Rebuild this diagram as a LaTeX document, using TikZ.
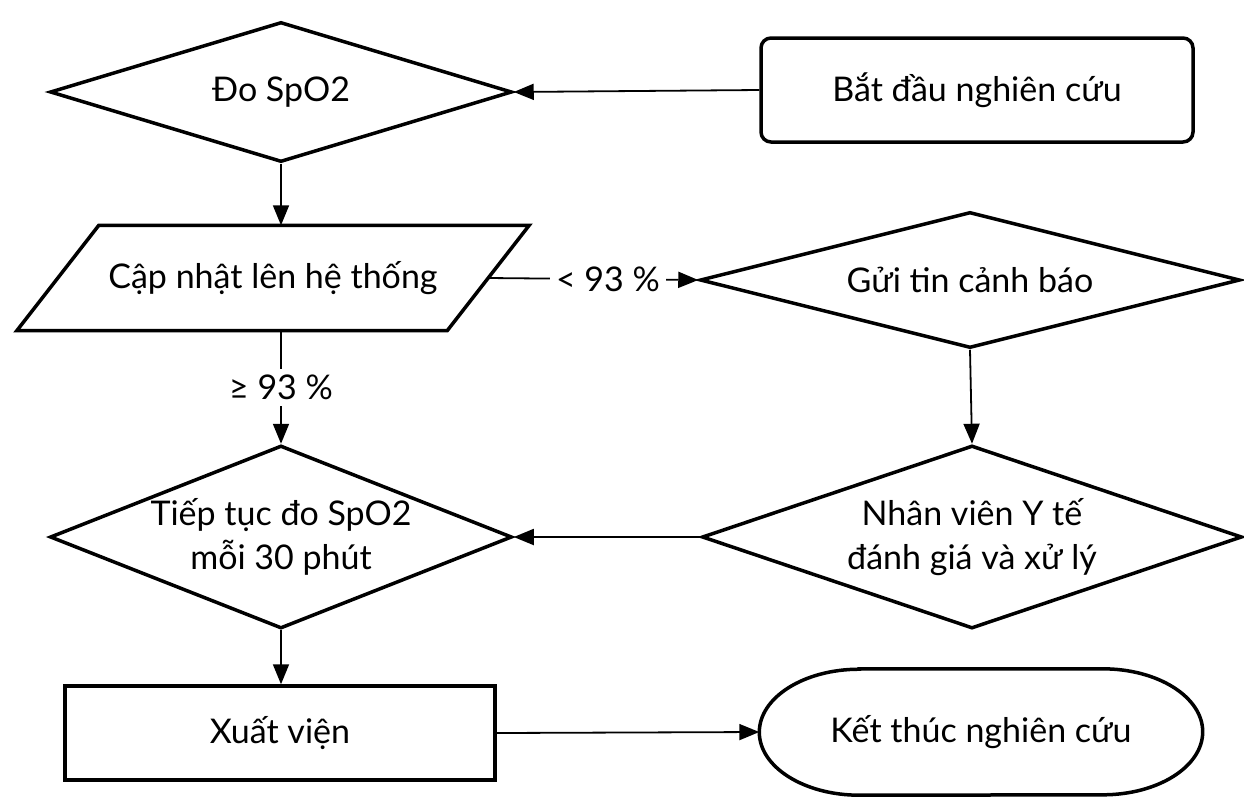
\documentclass[tikz,border=0pt]{standalone}
\usepackage{fontspec}
\setmainfont{Lato}
\usetikzlibrary{shapes.geometric,arrows.meta}
\begin{document}
\begin{tikzpicture}[x=1pt,y=-1pt,
  shp/.style={draw=black,line width=3.5pt,inner sep=0pt},
  dec/.style={shp,diamond},
  txt/.style={font=\fontsize{34}{44}\selectfont,align=center,inner sep=0pt},
  conn/.style={line width=1.8pt,-{Triangle[length=20pt,width=16pt]}},
  lbl/.style={font=\fontsize{34}{40}\selectfont,fill=white,inner sep=6pt}]
\useasboundingbox (0,0) rectangle (1244,796);
% shapes
\node[dec,minimum width=462pt,minimum height=140pt] (d1) at (281,92) {};
\node[txt] at (d1) {Đo SpO2};
\node[shp,rounded corners=10pt,minimum width=432pt,minimum height=104pt] (start) at (977,90) {};
\node[txt] at (start) {Bắt đầu nghiên cứu};
\node[inner sep=0pt,minimum width=430pt,minimum height=105pt] (upd) at (273,278) {};
\draw[shp,line join=miter] ([xshift=41pt]upd.north west) -- ([xshift=41pt]upd.north east)
   -- ([xshift=-41pt]upd.south east) -- ([xshift=-41pt]upd.south west) -- cycle;
\node[txt] at (upd) {Cập nhật lên hệ thống};
\node[dec,minimum width=540pt,minimum height=136pt] (warn) at (970,280) {};
\node[txt] at (warn) {Gửi tin cảnh báo};
\node[dec,minimum width=540pt,minimum height=183pt] (staff) at (972,537) {};
\node[txt] at (staff) {Nhân viên Y tế\\đánh giá và xử lý};
\node[dec,minimum width=462pt,minimum height=183pt] (cont) at (281,537) {};
\node[txt] at (cont) {Tiếp tục đo SpO2\\mỗi 30 phút};
\node[shp,minimum width=430pt,minimum height=94pt] (out) at (280,733) {};
\node[txt] at (out) {Xuất viện};
\node[inner sep=0pt,minimum width=443pt,minimum height=126pt] (end) at (981,732) {};
\draw[shp] ([xshift=100pt]end.north west) -- ([xshift=-100pt]end.north east)
   arc[start angle=90,end angle=-90,x radius=100pt,y radius=63pt]
   -- ([xshift=100pt]end.south west)
   arc[start angle=270,end angle=90,x radius=100pt,y radius=63pt] -- cycle;
\node[txt] at (end) {Kết thúc nghiên cứu};
% connectors
\draw[conn] (start.west) -- (d1.east);
\draw[conn] (d1.south) -- (upd.north -| d1.south);
\draw[conn] (upd.east) -- node[lbl,pos=0.57]{< 93 \%} (warn.west);
\draw[conn] (warn.south) -- (staff.north);
\draw[conn] (staff.west) -- (cont.east);
\draw[conn] (upd.south -| cont.north) -- node[lbl]{≥ 93 \%} (cont.north);
\draw[conn] (cont.south) -- (out.north -| cont.south);
\draw[conn] (out.east) -- (end.west);
\end{tikzpicture}
\end{document}
